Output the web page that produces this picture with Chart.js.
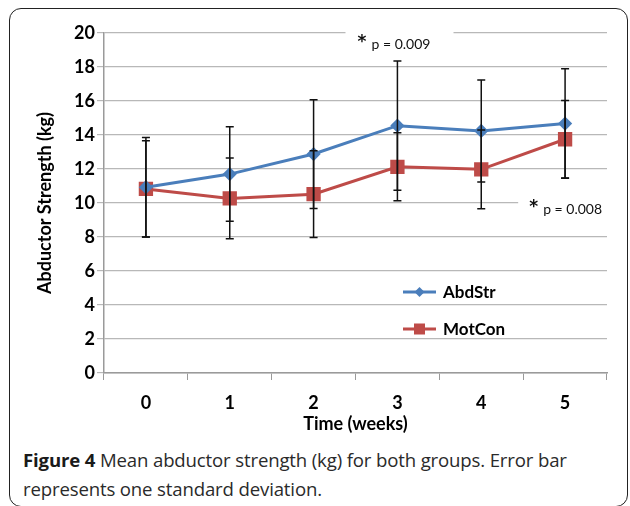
<!DOCTYPE html>
<html>
<head>
<meta charset="utf-8">
<script src="https://cdn.jsdelivr.net/npm/chart.js@4.4.1/dist/chart.umd.min.js"></script>
<style>
  body { margin: 0; background: #fff; }
  #wrap { position: relative; width: 630px; height: 506px; overflow: hidden; }
  #frame { position: absolute; left: 9px; top: 8px; width: 617px; height: 497px; border: 1.5px solid #222; border-radius: 12px; }
  #box { position: absolute; left: 0; top: 0; width: 630px; height: 440px; }
  #cap { position: absolute; left: 23px; top: 445px; width: 595px; font-family: "Open Sans"; font-size: 18.6px; line-height: 29px; color: #2a2a2a; letter-spacing: -0.15px; }
  #cap b { color: #1a1a1a; }
</style>
</head>
<body>
<div id="wrap">
  <div id="frame"></div>
  <div id="box"><canvas id="strength_chart" width="630" height="440"></canvas></div>
  <div id="cap"><b>Figure 4</b> Mean abductor strength (kg) for both groups. Error bar<br>represents one standard deviation.</div>
</div>
<script>
const weeks = ['0', '1', '2', '3', '4', '5'];
const abdStrMean = [10.93, 11.70, 12.88, 14.55, 14.24, 14.67];
const abdStrSd = [2.93, 2.78, 3.20, 3.80, 3.00, 3.22];
const motConMean = [10.83, 10.27, 10.52, 12.13, 11.98, 13.75];
const motConSd = [2.83, 2.37, 2.55, 2.00, 2.32, 2.28];
const yTicks = [0, 2, 4, 6, 8, 10, 12, 14, 16, 18, 20];
// p-value notes: [label, category position, y value]
const notes = [['p = 0.009', 2.5, 20], ['p = 0.008', 4.5, 10]];

const blue = '#4a7ebb';
const red = '#be4b48';

const extras = {
  id: 'extras',
  beforeDatasetsDraw(chart) {
    const {ctx, scales: {x, y}} = chart;
    ctx.save();
    // white gaps in the gridlines behind the p-value notes
    ctx.fillStyle = '#fff';
    const n0x = x.getPixelForValue(notes[0][1]), n0y = y.getPixelForValue(notes[0][2]);
    ctx.fillRect(n0x - 10, n0y - 4, 108, 8);
    const n1x = x.getPixelForValue(notes[1][1]), n1y = y.getPixelForValue(notes[1][2]);
    ctx.fillRect(n1x - 5, n1y - 4, 100, 8);
    ctx.restore();
  },
  afterDatasetsDraw(chart) {
    const {ctx, scales: {x, y}} = chart;
    ctx.save();
    // error bars
    ctx.strokeStyle = '#111';
    ctx.lineWidth = 1.5;
    const groups = [[abdStrMean, abdStrSd], [motConMean, motConSd]];
    groups.forEach(([m, s]) => {
      m.forEach((v, i) => {
        const px = x.getPixelForValue(i);
        const top = y.getPixelForValue(v + s[i]);
        const bot = y.getPixelForValue(v - s[i]);
        ctx.beginPath();
        ctx.moveTo(px, top); ctx.lineTo(px, bot);
        ctx.moveTo(px - 4, top); ctx.lineTo(px + 4, top);
        ctx.moveTo(px - 4, bot); ctx.lineTo(px + 4, bot);
        ctx.stroke();
      });
    });
    // p-value notes
    ctx.fillStyle = '#111';
    notes.forEach(([txt, cx, cy], k) => {
      const px = x.getPixelForValue(cx) + (k === 0 ? 3 : 7);
      const py = y.getPixelForValue(cy) + (k === 0 ? 5 : 0);
      ctx.textBaseline = 'alphabetic';
      ctx.font = 'bold 17px "DejaVu Sans"';
      ctx.fillText('*', px - 1, py + 9);
      ctx.textBaseline = 'middle';
      ctx.font = '14px Lato';
      ctx.fillText(txt, px + 13, py + 6);
    });
    // legend
    chart.data.datasets.forEach((ds, i) => {
      const lx = 403, ly = 292 + i * 37;
      ctx.strokeStyle = ds.borderColor;
      ctx.lineWidth = 3;
      ctx.beginPath();
      ctx.moveTo(lx, ly); ctx.lineTo(lx + 33, ly);
      ctx.stroke();
      ctx.fillStyle = ds.backgroundColor;
      if (ds.pointStyle === 'rect') {
        ctx.fillRect(lx + 11, ly - 5.5, 11, 11);
      } else {
        ctx.beginPath();
        ctx.moveTo(lx + 16.5, ly - 5); ctx.lineTo(lx + 21.5, ly);
        ctx.lineTo(lx + 16.5, ly + 5); ctx.lineTo(lx + 11.5, ly);
        ctx.closePath(); ctx.fill();
      }
      ctx.fillStyle = '#000';
      ctx.textBaseline = 'middle';
      ctx.font = 'bold 17px Lato';
      ctx.fillText(ds.label, lx + 40, ly + 1);
    });
    ctx.restore();
  }
};

const strength_chart = document.getElementById('strength_chart');

new Chart(strength_chart, {
  type: 'line',
  data: {
    labels: weeks,
    datasets: [{
      label: 'AbdStr',
      data: abdStrMean,
      borderColor: blue,
      backgroundColor: blue,
      borderWidth: 3,
      pointStyle: 'rectRot',
      pointRadius: 5,
      tension: 0
    }, {
      label: 'MotCon',
      data: motConMean,
      borderColor: red,
      backgroundColor: red,
      borderWidth: 3,
      pointStyle: 'rect',
      pointRadius: 8,
      tension: 0
    }]
  },
  options: {
    responsive: false,
    animation: false,
    layout: { padding: { top: 33, right: 23, left: 0, bottom: 0 } },
    plugins: {
      legend: { display: false },
      tooltip: { enabled: false }
    },
    scales: {
      x: {
        offset: true,
        afterFit(s) { s.height = 67; },
        grid: { drawOnChartArea: false, tickLength: 7, color: '#9a9a9a', offset: true },
        border: { color: '#9a9a9a', width: 1.5 },
        ticks: { color: '#000', font: { family: 'Lato', size: 18, weight: 'bold' }, padding: 12 },
        title: { display: true, text: 'Time (weeks)', color: '#000', font: { family: 'Lato', size: 18, weight: 'bold' }, padding: { top: 0, bottom: 5 } }
      },
      y: {
        min: 0,
        max: 20,
        afterFit(s) { s.width = 104; },
        afterBuildTicks(s) { s.ticks = yTicks.map(v => ({ value: v })); },
        grid: { color: '#b8b8b8', tickLength: 7, lineWidth: 1.2 },
        border: { color: '#9a9a9a', width: 1.5 },
        ticks: { color: '#000', font: { family: 'Lato', size: 18, weight: 'bold' }, padding: 2 },
        title: { display: true, text: 'Abductor Strength (kg)', color: '#000', font: { family: 'Lato', size: 18, weight: 'bold' }, padding: { top: 34, bottom: 0 } }
      }
    }
  },
  plugins: [extras]
});
</script>
</body>
</html>
